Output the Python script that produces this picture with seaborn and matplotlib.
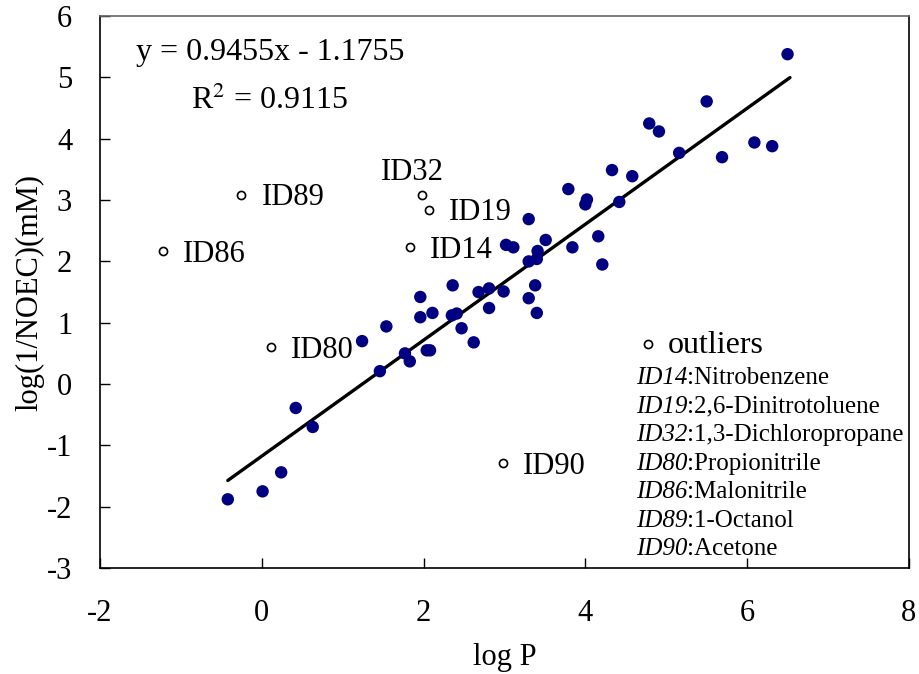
import matplotlib
matplotlib.use("Agg")
import matplotlib.pyplot as plt
import seaborn as sns
import pandas as pd
import numpy as np

# ---- data ----
logp = [-0.42, 0.01, 0.24, 0.42, 0.63, 1.24, 1.46, 1.54, 1.77, 1.83,
        1.96, 1.96, 2.04, 2.08, 2.11, 2.36, 2.35, 2.41, 2.47, 2.62,
        2.68, 2.81, 2.81, 2.99, 3.30, 3.38, 3.40, 3.30, 3.40, 3.41,
        3.51, 3.02, 3.11, 6.50, 5.50, 4.79, 4.91, 5.16, 5.69, 6.09,
        6.31, 4.33, 4.58, 3.79, 4.02, 4.00, 4.42, 3.30, 4.16, 3.84,
        4.21]
lognoec = [-1.88, -1.75, -1.44, -0.39, -0.70, 0.70, 0.21, 0.94, 0.50, 0.37,
           1.42, 1.09, 0.55, 0.55, 1.16, 1.61, 1.12, 1.15, 0.91, 0.68,
           1.50, 1.56, 1.24, 1.51, 1.40, 1.61, 1.16, 2.00, 2.04, 2.17,
           2.35, 2.27, 2.23, 5.38, 4.61, 4.25, 4.12, 3.77, 3.70, 3.94,
           3.88, 3.49, 3.39, 3.18, 3.01, 2.93, 2.97, 2.69, 2.41, 2.23,
           1.95]

out_ids = ["ID14", "ID19", "ID32", "ID80", "ID86", "ID89", "ID90"]
out_names = ["Nitrobenzene", "2,6-Dinitrotoluene", "1,3-Dichloropropane",
             "Propionitrile", "Malonitrile", "1-Octanol", "Acetone"]
out_logp = [1.83, 2.07, 1.98, 0.11, -1.22, -0.26, 2.98]
out_lognoec = [2.23, 2.84, 3.08, 0.60, 2.17, 3.08, -1.28]

slope = 0.9455
intercept = -1.1755
r2 = 0.9115

x_ticks = [-2, 0, 2, 4, 6, 8]
y_ticks = [-3, -2, -1, 0, 1, 2, 3, 4, 5, 6]

# ---- style ----
sns.set_theme(style="ticks")
plt.rcParams["font.family"] = ["Liberation Serif", "DejaVu Serif"]
plt.rcParams["mathtext.fontset"] = "stix"
plt.rcParams["text.color"] = "black"
plt.rcParams["axes.labelcolor"] = "black"

fig = plt.figure(figsize=(9.19, 6.74), dpi=100)
ax = fig.add_axes([0.1088, 0.1573, 0.8802, 0.8187])

df = pd.DataFrame({"logP": logp, "y": lognoec})
dfo = pd.DataFrame({"logP": out_logp, "y": out_lognoec, "id": out_ids})

sns.scatterplot(data=df, x="logP", y="y", ax=ax, color="#000080",
                s=80, edgecolor="none", legend=False, zorder=3)

line_x = np.array([min(logp), max(logp) + 0.03])
line_df = pd.DataFrame({"logP": line_x, "y": slope * line_x + intercept})
sns.lineplot(data=line_df, x="logP", y="y", ax=ax, color="black",
             linewidth=2.4, zorder=2)

sns.scatterplot(data=dfo, x="logP", y="y", ax=ax, facecolor="white",
                edgecolor="black", linewidth=1.2, s=34, label="outliers",
                zorder=4)

offsets = {"ID14": (20, -3, "left"), "ID19": (20, -3, "left"),
           "ID32": (-10, 23, "center"), "ID80": (20, -3, "left"),
           "ID86": (20, -4, "left"), "ID89": (21, -2, "left"),
           "ID90": (20, -4, "left")}
for lid, xv, yv in zip(out_ids, out_logp, out_lognoec):
    dx, dy, ha = offsets[lid]
    ax.annotate(lid, (xv, yv), xytext=(dx, dy), textcoords="offset pixels",
                ha=ha, va="center", fontsize=22)

ax.set_xlim(-2, 8)
ax.set_ylim(-3, 6)
ax.set_xticks(x_ticks)
ax.set_yticks(y_ticks)
ax.set_xticklabels([str(t) for t in x_ticks], fontsize=22)
ax.set_yticklabels([str(t) for t in y_ticks], fontsize=22)
ax.tick_params(direction="in", length=7, width=1, colors="black")
ax.tick_params(axis="y", pad=20)
ax.tick_params(axis="x", pad=22)
ax.set_xlabel("log P", fontsize=22, labelpad=11)
ax.set_ylabel("log(1/NOEC)(mM)", fontsize=22, labelpad=2)
for sp in ax.spines.values():
    sp.set_visible(True)
    sp.set_color("black")
    sp.set_linewidth(1.2)
ax.spines["top"].set_color("#666666")

ax.text(0.21, 0.935, f"y = {slope}x - {abs(intercept)}", transform=ax.transAxes,
        ha="center", va="center", fontsize=23)
ax.text(0.21, 0.846, "R$^{2}$" + f" = {r2}", transform=ax.transAxes,
        ha="center", va="center", fontsize=23)

leg = ax.legend(loc="center left", bbox_to_anchor=(0.667, 0.404), frameon=False,
                fontsize=23, handlelength=0.5, handletextpad=0.37,
                borderpad=0, borderaxespad=0)

for i, (lid, nm) in enumerate(zip(out_ids, out_names)):
    t = ax.text(0.6626, 0.344 - i * 0.0516, lid, transform=ax.transAxes,
                ha="left", va="center", fontsize=18, fontstyle="italic")
    ax.annotate(":" + nm, xy=(1, 0.5), xycoords=t, ha="left", va="center",
                fontsize=18)

fig.savefig("out.png", dpi=100)
